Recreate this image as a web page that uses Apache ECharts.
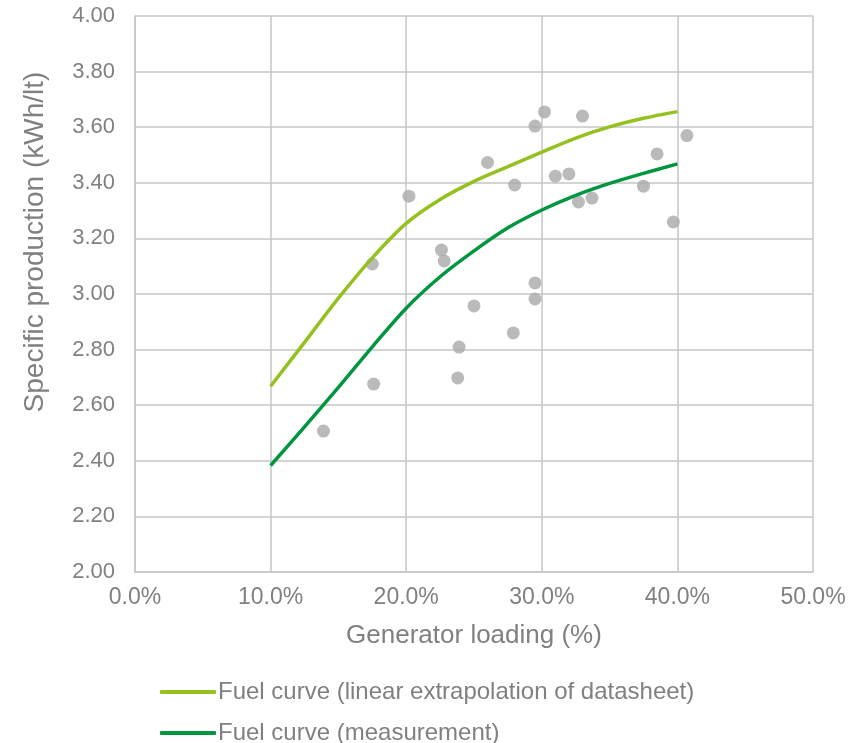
<!DOCTYPE html>
<html>
<head>
<meta charset="utf-8">
<script src="https://cdn.jsdelivr.net/npm/echarts@6/dist/echarts.min.js"></script>
<style>html,body{margin:0;padding:0;background:#fff}#c{width:860px;height:743px}</style>
</head>
<body>
<div id="c"></div>
<script>
// Scatter measurements: generator loading (%) and specific production (kWh/lt)
const scatterX = [13.9, 17.5, 17.6, 20.2, 22.6, 22.8, 23.9, 23.8, 25.0, 26.0, 27.9, 28.0, 29.5, 29.5, 29.5, 30.2, 31.0, 32.0, 32.7, 33.0, 33.7, 37.5, 38.5, 39.7, 40.7];
const scatterY = [2.507, 3.108, 2.676, 3.352, 3.158, 3.119, 2.809, 2.698, 2.957, 3.473, 2.860, 3.392, 3.604, 3.040, 2.982, 3.655, 3.424, 3.432, 3.331, 3.640, 3.345, 3.388, 3.504, 3.259, 3.570];

// Fuel curves
const curveX = [10, 12.5, 15, 17.5, 20, 22.5, 25, 27.5, 30, 32.5, 35, 37.5, 40];
const datasheetCurve = [2.668, 2.826, 2.985, 3.130, 3.254, 3.340, 3.405, 3.458, 3.510, 3.561, 3.601, 3.632, 3.656];
const measuredCurve = [2.383, 2.522, 2.664, 2.810, 2.949, 3.062, 3.155, 3.238, 3.302, 3.355, 3.398, 3.434, 3.468];

const xTicks = [0, 10, 20, 30, 40, 50];
const yTicks = [2.0, 2.2, 2.4, 2.6, 2.8, 3.0, 3.2, 3.4, 3.6, 3.8, 4.0];

const nameDatasheet = 'Fuel curve (linear extrapolation of datasheet)';
const nameMeasured = 'Fuel curve (measurement)';
const xTitle = 'Generator loading (%)';
const yTitle = 'Specific production (kWh/lt)';

const FONT = '"Liberation Sans", Arial, sans-serif';
const TXT = '#808080';
const GRID = '#C6C6C6';

const legendCommon = {
  orient: 'horizontal',
  left: 155,
  itemWidth: 56, itemHeight: 4,
  icon: 'roundRect',
  textStyle: {color: TXT, fontSize: 24, fontFamily: FONT, padding: [0, 0, 0, -3]}
};

const chart = echarts.init(document.getElementById('c'), null, {renderer: 'canvas'});
chart.setOption({
  animation: false,
  backgroundColor: '#ffffff',
  textStyle: {fontFamily: FONT},
  grid: {left: 135, right: 47, top: 16, bottom: 171},
  xAxis: {
    type: 'value',
    min: xTicks[0], max: xTicks[xTicks.length - 1], interval: 10,
    name: xTitle, nameLocation: 'middle', nameGap: 51,
    nameTextStyle: {color: TXT, fontSize: 26, fontFamily: FONT},
    axisLine: {show: true, lineStyle: {color: GRID, width: 1.5}},
    axisTick: {show: false},
    axisLabel: {color: TXT, fontSize: 23, fontFamily: FONT, margin: 14,
      formatter: v => v.toFixed(1) + '%'},
    splitLine: {show: true, lineStyle: {color: GRID, width: 1.5}}
  },
  yAxis: {
    type: 'value',
    min: yTicks[0], max: yTicks[yTicks.length - 1], interval: 0.2,
    axisLine: {show: true, lineStyle: {color: GRID, width: 1.5}},
    axisTick: {show: false},
    axisLabel: {color: TXT, fontSize: 22, fontFamily: FONT, margin: 20,
      formatter: v => v.toFixed(2)},
    splitLine: {show: true, lineStyle: {color: GRID, width: 1.5}}
  },
  graphic: [{
    type: 'text',
    x: 35, y: 242,
    rotation: Math.PI / 2,
    style: {text: yTitle, fill: TXT, font: '28px ' + FONT, textAlign: 'center', textVerticalAlign: 'middle'}
  }],
  legend: [
    Object.assign({}, legendCommon, {data: [nameDatasheet], top: 675}),
    Object.assign({}, legendCommon, {data: [nameMeasured], top: 716})
  ],
  series: [
    {
      type: 'scatter',
      name: 'Measurements',
      data: scatterX.map((x, i) => [x, scatterY[i]]),
      symbolSize: 13,
      itemStyle: {color: '#A9A9A9'},
      z: 3
    },
    {
      type: 'line',
      name: nameDatasheet,
      data: curveX.map((x, i) => [x, datasheetCurve[i]]),
      smooth: 0.3,
      showSymbol: false,
      lineStyle: {color: '#95C11F', width: 3.5},
      itemStyle: {color: '#95C11F'},
      z: 4
    },
    {
      type: 'line',
      name: nameMeasured,
      data: curveX.map((x, i) => [x, measuredCurve[i]]),
      smooth: 0.3,
      showSymbol: false,
      lineStyle: {color: '#00963F', width: 3.5},
      itemStyle: {color: '#00963F'},
      z: 4
    }
  ]
});
</script>
</body>
</html>
